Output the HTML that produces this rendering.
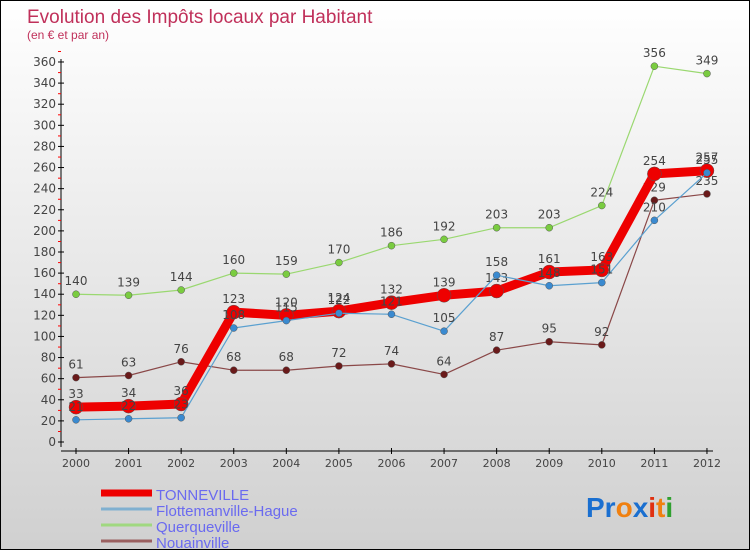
<!DOCTYPE html>
<html><head><meta charset="utf-8"><style>
body{margin:0;}
#c{width:748px;height:548px;border:1px solid #000;background:linear-gradient(#fff,#d0d0d0);position:relative;font-family:"DejaVu Sans","Liberation Sans",sans-serif;overflow:hidden}
</style></head><body>
<div id="c">
<svg id="s" width="748" height="548" style="position:absolute;left:0;top:0">
<text x="26" y="22" font-size="19" fill="#c0305a" font-family="Liberation Sans, sans-serif">Evolution des Impôts locaux par Habitant</text>
<text x="26" y="38" font-size="12" fill="#c0305a" font-family="Liberation Sans, sans-serif">(en € et par an)</text>
<g id="axes"></g><g id="series"></g><g id="legend"></g>
<text x="585" y="516" font-size="28" font-family="Liberation Sans, sans-serif" font-weight="bold"><tspan fill="#1a6fd0">Pr</tspan><tspan fill="#f08010">o</tspan><tspan fill="#1a6fd0">x</tspan><tspan fill="#e03010">i</tspan><tspan fill="#f08010">t</tspan><tspan fill="#30a030">i</tspan></text>
</svg>
</div>
<script>
const years=[2000,2001,2002,2003,2004,2005,2006,2007,2008,2009,2010,2011,2012];
const yTicks=[0,20,40,60,80,100,120,140,160,180,200,220,240,260,280,300,320,340,360];
const tonneville=[33,34,36,123,120,124,132,139,143,161,163,254,257];
const flottemanville=[21,22,23,108,115,122,121,105,158,148,151,210,255];
const querqueville=[140,139,144,160,159,170,186,192,203,203,224,356,349];
const nouainville=[61,63,76,68,68,72,74,64,87,95,92,229,235];
const NS='http://www.w3.org/2000/svg';
const xs=i=>75+i*52.58, ys=v=>441-v*1.0556;
function mk(t,a,p){const e=document.createElementNS(NS,t);for(const k in a)e.setAttribute(k,a[k]);p.appendChild(e);return e;}
const ax=document.getElementById('axes');
let l=mk('line',{x1:60,y1:58,x2:60,y2:446,stroke:'#000'},ax);


l=mk('line',{x1:60,y1:450,x2:712,y2:450,stroke:'#000'},ax);


yTicks.forEach(v=>{const y=ys(v);mk('line',{x1:57,y1:y,x2:63,y2:y,stroke:'#000'},ax);
mk('line',{x1:57,y1:y-10.5,x2:60,y2:y-10.5,stroke:'#f00'},ax);
const t=mk('text',{x:55,y:y+4,'text-anchor':'end','font-size':12,fill:'#444'},ax);t.textContent=v;

});
years.forEach((yr,i)=>{const x=xs(i);mk('line',{x1:x,y1:447,x2:x,y2:453,stroke:'#000'},ax);
const t=mk('text',{x:x,y:466,'text-anchor':'middle','font-size':11,fill:'#444'},ax);t.textContent=yr;

});
const S=document.getElementById('series');
function draw(vals,color,w,r,dot,name){const g=mk('g',{},S);


mk('polyline',{points:vals.map((v,i)=>xs(i)+','+ys(v)).join(' '),fill:'none',stroke:color,'stroke-width':w,'stroke-linejoin':'round'},g);
vals.forEach((v,i)=>{const c=mk('circle',{cx:xs(i),cy:ys(v),r:r,fill:dot,stroke:'#555','stroke-width':0.5},g);


const t=mk('text',{x:xs(i),y:ys(v)-9,'text-anchor':'middle','font-size':12,fill:'#444'},g);t.textContent=v;

});}
draw(querqueville,'#9ad870',1.2,3.5,'#7acc40','querqueville');
draw(nouainville,'#8a4848',1.2,3.5,'#6a1a1a','nouainville');
draw(tonneville,'#ee0000',9,7,'#ee0000','tonneville');
draw(flottemanville,'#5aa0d0',1.2,3.5,'#3a8ad0','flottemanville');
const L=document.getElementById('legend');
[['TONNEVILLE','#ee0000',7],['Flottemanville-Hague','#80b0d0',3],['Querqueville','#a0d880',3],['Nouainville','#9a6060',3]].forEach((d,i)=>{
const y=492+i*16;const g=mk('g',{},L);


mk('line',{x1:100,y1:y,x2:151,y2:y,stroke:d[1],'stroke-width':d[2]},g);
const t=mk('text',{x:155,y:y+7,'font-size':15,fill:'#6a6af0','font-family':'Liberation Sans, sans-serif'},g);t.textContent=d[0];});
</script>
</body></html>
